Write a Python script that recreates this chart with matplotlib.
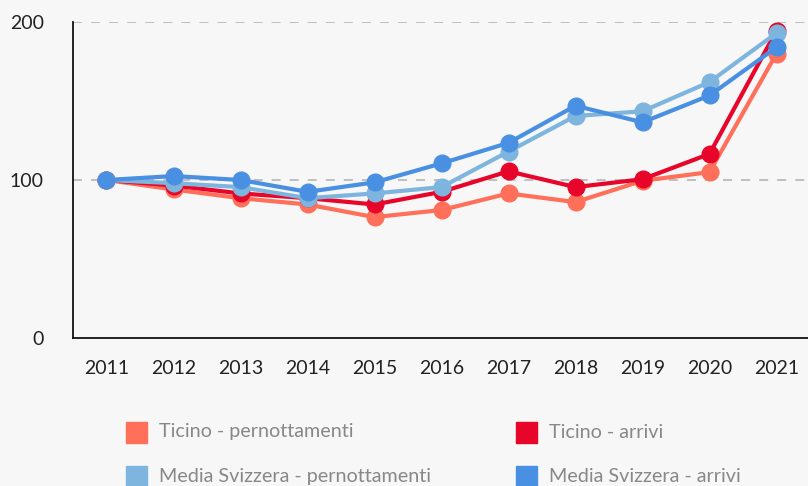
import matplotlib.pyplot as plt
from matplotlib.patches import Rectangle

plt.rcParams['font.family'] = ['Lato', 'DejaVu Sans']

years = [2011, 2012, 2013, 2014, 2015, 2016, 2017, 2018, 2019, 2020, 2021]

ticino_pern = [100, 94, 88.5, 84.5, 76.5, 81, 91.5, 86, 99.5, 105, 180]
ticino_arr = [100, 96.5, 91.5, 88.5, 84.5, 92.5, 105.5, 95.5, 100.5, 116.5, 194.5]
svizzera_pern = [100, 98, 95.5, 88.5, 91.5, 95.5, 118, 140.5, 143.5, 162, 193]
svizzera_arr = [100, 102.5, 100, 92.5, 98.5, 110.5, 123.5, 147, 136.5, 153.5, 184]

labels = ["Ticino - pernottamenti", "Ticino - arrivi",
          "Media Svizzera - pernottamenti", "Media Svizzera - arrivi"]
colors = ["#FF6F59", "#E8052A", "#7DB5DE", "#4A90E2"]
series = [ticino_pern, ticino_arr, svizzera_pern, svizzera_arr]

bg = "#F7F7F7"
fig = plt.figure(figsize=(8.08, 4.86), dpi=100, facecolor=bg)
ax = fig.add_axes([73 / 808, 1 - 338 / 486, 1 - 73 / 808, (338 - 22) / 486])
ax.set_facecolor(bg)

for vals, col in zip(series, colors):
    ax.plot(years, vals, color=col, lw=3, marker="o", ms=12,
            solid_capstyle="round", zorder=3)

ax.set_xlim(2010.5, 2010.5 + 735 / 67)
ax.set_ylim(0, 200)
ax.set_yticks([0, 100, 200])
ax.set_xticks(years)
for y in [100, 200]:
    ax.axhline(y, color="#BBBBBB", lw=1.3, ls=(0, (5, 5)), zorder=1)

for s in ["top", "right"]:
    ax.spines[s].set_visible(False)
for s in ["left", "bottom"]:
    ax.spines[s].set_color("#111111")
    ax.spines[s].set_linewidth(1.3)
ax.tick_params(length=0, labelsize=14, colors="#222222")
ax.tick_params(axis="y", pad=21)
ax.tick_params(axis="x", pad=16)

# legend, laid out in two columns
pos = [(126, 432), (516, 432), (126, 476), (516, 476)]
for (px, py), lab, col in zip(pos, labels, colors):
    fig.patches.append(Rectangle((px / 808, 1 - (py + 11) / 486), 21 / 808, 21 / 486,
                                 transform=fig.transFigure, color=col))
    fig.text((px + 33) / 808, 1 - py / 486, lab, fontsize=14.2, color="#888888",
             va="center", ha="left")

fig.savefig("out.png", dpi=100, facecolor=bg)
